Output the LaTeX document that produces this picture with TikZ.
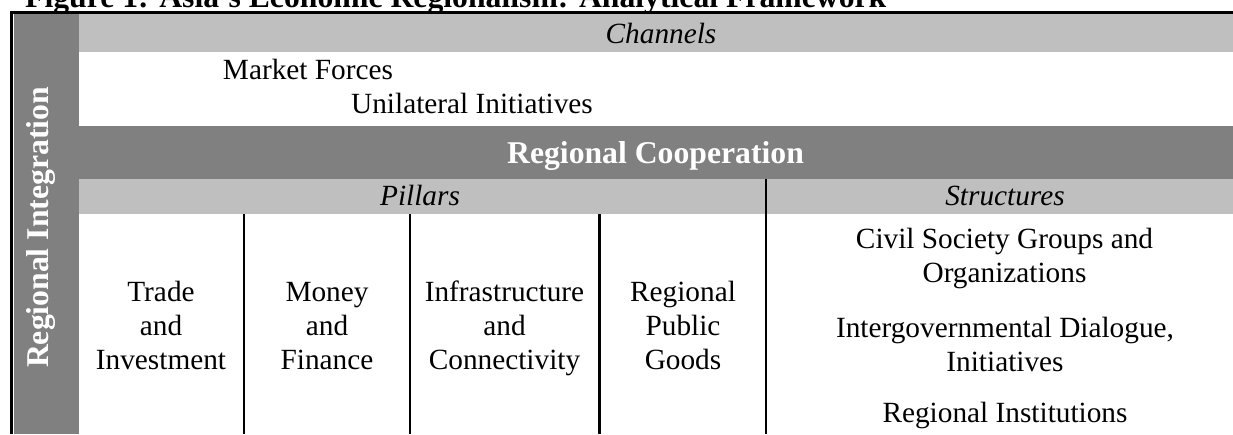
\documentclass[tikz,border=0pt]{standalone}
\usepackage{fontspec}
\setmainfont{Liberation Serif}
\definecolor{dk}{RGB}{128,128,128}
\definecolor{lt}{RGB}{191,191,191}
\newcommand{\nrmfont}{\fontsize{29.3}{34}\selectfont}
\newcommand{\bldfont}{\fontsize{31.7}{36}\selectfont\bfseries}
\newcommand{\stk}[1]{\begin{tabular}[t]{@{}c@{}}#1\end{tabular}}
\begin{document}
\begin{tikzpicture}[x=1pt,y=-1pt,
  txt/.style={inner sep=0pt, outer sep=0pt, anchor=base, font=\nrmfont},
  head/.style={txt, font=\nrmfont\itshape},
  bhead/.style={inner sep=0pt, outer sep=0pt, anchor=base, font=\bldfont, text=white},
  rule/.style={line width=2.2pt},
  frame/.style={line width=3pt}]
\useasboundingbox (0,0) rectangle (1233,434);
\clip (0,0) rectangle (1233,434);
% title (cut at the top)
\node[inner sep=0pt, anchor=base west, font=\bldfont] (title) at (25,7.5)
  {Figure 1: Asia's Economic Regionalism: Analytical Framework};
% fills
\fill[dk] (13.5,14) rectangle (79,434);
\fill[lt] (79,14) rectangle (1233,52);
\fill[dk] (13.5,126) rectangle (1233,179);
\fill[lt] (79,179) rectangle (1233,214);
% frame lines
\draw[line width=2.75pt] (10,12.75) -- (1233,12.75);
\draw[frame] (11.75,11.5) -- (11.75,434);
% dividers
\draw[rule] (243.8,214) -- (243.8,434);
\draw[rule] (410.3,214) -- (410.3,434);
\draw[rule] (599.5,214) -- (599.5,434);
\draw[rule] (766,179) -- (766,434);
% texts
\node[bhead, rotate=90] (ri) at (48,227.5) {Regional Integration};
\node[head] (channels) at (661,43) {Channels};
\node[txt] (mf) at (308,79) {Market Forces};
\node[txt] (ui) at (472,113) {Unilateral Initiatives};
\node[bhead] (rc) at (655.5,163) {Regional Cooperation};
\node[head] (pillars) at (420,205.5) {Pillars};
\node[head] (structures) at (1005,205.5) {Structures};
\node[txt] (p1) at (161,301.7) {\stk{Trade\\and\\Investment}};
\node[txt] (p2) at (327,301.7) {\stk{Money\\and\\Finance}};
\node[txt] (p3) at (504.5,301.7) {\stk{Infrastructure\\and\\Connectivity}};
\node[txt] (p4) at (683,301.7) {\stk{Regional\\Public\\Goods}};
\node[txt] (s1) at (1004.5,248) {\stk{Civil Society Groups and\\Organizations}};
\node[txt] (s2) at (1005,337) {\stk{Intergovernmental Dialogue,\\Initiatives}};
\node[txt] (s3) at (1005,422) {Regional Institutions};
\end{tikzpicture}
\end{document}
